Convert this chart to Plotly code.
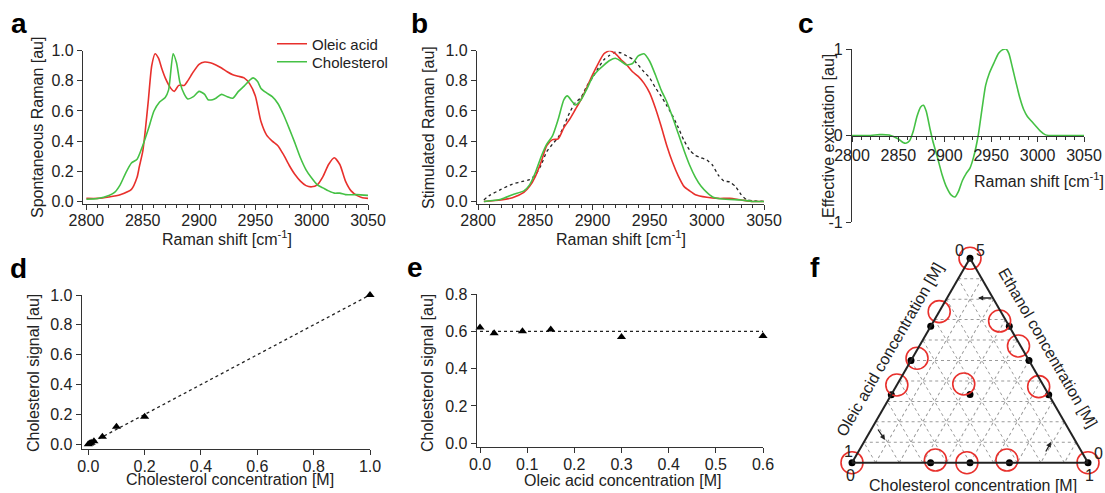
import plotly.graph_objects as go

W, H = 1105, 493
FONT = "Arial, Liberation Sans, sans-serif"
RED = '#e8302c'
GREEN = '#45c145'
AX = '#333333'


def px(x):
    return x / W


def py(y):
    return 1 - y / H


# ---- panel a: spontaneous Raman ----
a_oleic_x = [2800, 2810, 2820, 2830, 2840, 2845, 2847, 2850, 2852, 2855, 2858, 2861, 2864, 2867, 2870, 2875,
             2878, 2882, 2887, 2890, 2895, 2900, 2905, 2910, 2915, 2920, 2925, 2930, 2935, 2940, 2945, 2950,
             2955, 2960, 2965, 2970, 2975, 2980, 2985, 2990, 2995, 3000, 3005, 3010, 3015, 3020, 3025, 3030,
             3035, 3040, 3045, 3050]
a_oleic_y = [0.02, 0.02, 0.03, 0.045, 0.08, 0.16, 0.23, 0.33, 0.45, 0.67, 0.9, 0.98, 0.95, 0.88, 0.82, 0.75,
             0.73, 0.77, 0.77, 0.8, 0.86, 0.91, 0.925, 0.92, 0.905, 0.885, 0.86, 0.84, 0.83, 0.82, 0.78, 0.7,
             0.53, 0.44, 0.4, 0.37, 0.31, 0.24, 0.18, 0.135, 0.105, 0.097, 0.11, 0.165, 0.245, 0.29, 0.245, 0.135,
             0.07, 0.04, 0.025, 0.02]
a_chol_x = [2800, 2810, 2820, 2825, 2830, 2835, 2840, 2845, 2850, 2855, 2860, 2865, 2870, 2873, 2877, 2880,
            2883, 2887, 2890, 2895, 2900, 2905, 2908, 2912, 2915, 2920, 2925, 2930, 2935, 2940, 2945, 2948,
            2952, 2955, 2960, 2965, 2970, 2975, 2980, 2985, 2990, 2995, 3000, 3005, 3010, 3015, 3020, 3025,
            3030, 3040, 3050]
a_chol_y = [0.015, 0.02, 0.04, 0.06, 0.11, 0.19, 0.255, 0.28, 0.37, 0.48, 0.6, 0.66, 0.69, 0.74, 0.98, 0.92,
            0.79, 0.71, 0.68, 0.695, 0.73, 0.71, 0.675, 0.675, 0.685, 0.71, 0.695, 0.685, 0.73, 0.765, 0.805, 0.82,
            0.795, 0.75, 0.72, 0.695, 0.65, 0.575, 0.485, 0.39, 0.29, 0.21, 0.155, 0.11, 0.09, 0.07, 0.055, 0.055,
            0.045, 0.045, 0.04]

# ---- panel b: stimulated Raman ----
b_red_x = [2805, 2820, 2830, 2840, 2845, 2850, 2855, 2860, 2865, 2870, 2875, 2880, 2885, 2890, 2895, 2900,
           2905, 2910, 2915, 2920, 2925, 2930, 2935, 2940, 2945, 2950, 2955, 2960, 2965, 2970, 2975, 2980,
           2985, 2990, 3000, 3010, 3020, 3030, 3040, 3050]
b_red_y = [0, 0.01, 0.025, 0.06, 0.1, 0.165, 0.26, 0.37, 0.41, 0.415, 0.49, 0.545, 0.61, 0.675, 0.755, 0.84,
           0.915, 0.98, 1.0, 0.98, 0.94, 0.905, 0.86, 0.83, 0.785, 0.72, 0.62, 0.5, 0.37, 0.26, 0.17, 0.1,
           0.07, 0.045, 0.028, 0.02, 0.02, 0.01, 0, 0]
b_green_x = [2805, 2820, 2830, 2840, 2845, 2850, 2855, 2860, 2865, 2870, 2875, 2878, 2882, 2885, 2890, 2895,
             2900, 2905, 2910, 2915, 2920, 2925, 2930, 2935, 2940, 2945, 2950, 2955, 2960, 2965, 2970, 2975,
             2980, 2985, 2990, 2995, 3000, 3005, 3010, 3020, 3030, 3040, 3050]
b_green_y = [0, 0.015, 0.045, 0.07, 0.11, 0.19, 0.295, 0.38, 0.435, 0.545, 0.675, 0.7, 0.665, 0.64, 0.675, 0.745,
             0.825, 0.87, 0.905, 0.935, 0.95, 0.93, 0.905, 0.915, 0.965, 0.98, 0.93, 0.84, 0.74, 0.66, 0.56, 0.45,
             0.34, 0.24, 0.16, 0.1, 0.06, 0.03, 0.02, 0.013, 0.01, 0, 0]
b_mix_x = [2805, 2810, 2820, 2830, 2840, 2845, 2850, 2855, 2860, 2865, 2870, 2875, 2880, 2885, 2890, 2895,
           2900, 2905, 2910, 2915, 2920, 2925, 2930, 2935, 2940, 2945, 2950, 2955, 2960, 2965, 2970, 2975,
           2980, 2985, 2990, 2995, 3000, 3005, 3010, 3015, 3020, 3025, 3030, 3035, 3040, 3050]
b_mix_y = [0.01, 0.04, 0.08, 0.115, 0.135, 0.145, 0.175, 0.24, 0.33, 0.38, 0.425, 0.5, 0.59, 0.655, 0.69, 0.765,
           0.82, 0.885, 0.94, 0.97, 0.99, 0.985, 0.965, 0.945, 0.905, 0.86, 0.82, 0.755, 0.7, 0.635, 0.57, 0.49,
           0.405, 0.34, 0.305, 0.29, 0.275, 0.24, 0.175, 0.135, 0.13, 0.1, 0.045, 0.01, 0.005, 0]

# ---- panel c: effective excitation ----
c_x = [2800, 2820, 2830, 2840, 2850, 2855, 2858, 2862, 2866, 2870, 2874, 2877, 2880, 2884, 2887, 2892,
       2897, 2902, 2907, 2911, 2915, 2919, 2923, 2927, 2931, 2936, 2940, 2944, 2948, 2953, 2958, 2962,
       2966, 2969, 2973, 2977, 2981, 2985, 2989, 2993, 2998, 3003, 3008, 3012, 3030, 3050]
c_y = [0, 0, 0.01, 0.005, -0.04, -0.08, -0.09, -0.06, 0.05, 0.22, 0.33, 0.35, 0.28, 0.08, -0.06, -0.25,
       -0.45, -0.6, -0.69, -0.71, -0.64, -0.52, -0.44, -0.38, -0.25, 0, 0.3, 0.58, 0.72, 0.84, 0.95, 0.99,
       1.0, 0.95, 0.78, 0.6, 0.43, 0.3, 0.22, 0.17, 0.11, 0.05, 0.01, 0, 0, 0]
c_yticks = [-1, 0, 1]
c_yticktext = ['-1', '0', '1']

# ---- panel d: cholesterol calibration ----
d_conc = [0, 0.005, 0.01, 0.02, 0.05, 0.1, 0.2, 1.0]
d_signal = [0, 0.005, 0.01, 0.02, 0.05, 0.118, 0.185, 1.0]
d_fit_x = [0, 1.0]
d_fit_y = [0, 1.0]

# ---- panel e: oleic acid interference ----
e_conc = [0, 0.03, 0.09, 0.15, 0.3, 0.6]
e_signal = [0.62, 0.59, 0.60, 0.61, 0.57, 0.575]
e_fit_x = [0, 0.6]
e_fit_y = [0.6, 0.6]

# ---- panel f: ternary mixtures (a = ethanol, b = oleic acid, c = cholesterol) ----
f_set_eth = [1, 0.667, 0.5, 0.333, 0, 0, 0, 0, 0, 0.667, 0.5, 0.333, 0.333]
f_set_ole = [0, 0.333, 0.5, 0.667, 1, 0.667, 0.5, 0.333, 0, 0, 0, 0, 0.333]
f_set_cho = [0, 0, 0, 0, 0, 0.333, 0.5, 0.667, 1, 0.333, 0.5, 0.667, 0.333]
f_meas_eth = [1, 0.739, 0.511, 0.38, 0, 0.013, 0, 0.013, 0, 0.693, 0.571, 0.372, 0.385]
f_meas_ole = [0, 0.261, 0.469, 0.62, 1, 0.64, 0.513, 0.337, 0, 0.028, 0.009, 0.023, 0.334]
f_meas_cho = [0, 0, 0.02, 0, 0, 0.347, 0.487, 0.65, 1, 0.279, 0.42, 0.605, 0.281]

fig = go.Figure()

# a
fig.add_trace(go.Scatter(x=a_oleic_x, y=a_oleic_y, name='Oleic acid', mode='lines', legend='legend',
                         line=dict(color=RED, width=1.6, shape='spline', smoothing=0.6), xaxis='x', yaxis='y'))
fig.add_trace(go.Scatter(x=a_chol_x, y=a_chol_y, name='Cholesterol', mode='lines', legend='legend2',
                         line=dict(color=GREEN, width=1.6, shape='spline', smoothing=0.6), xaxis='x', yaxis='y'))
# b
fig.add_trace(go.Scatter(x=b_mix_x, y=b_mix_y, mode='lines', showlegend=False,
                         line=dict(color='#222222', width=1.3, dash='dot', shape='spline', smoothing=0.5),
                         xaxis='x2', yaxis='y2'))
fig.add_trace(go.Scatter(x=b_red_x, y=b_red_y, mode='lines', showlegend=False,
                         line=dict(color=RED, width=1.6, shape='spline', smoothing=0.6), xaxis='x2', yaxis='y2'))
fig.add_trace(go.Scatter(x=b_green_x, y=b_green_y, mode='lines', showlegend=False,
                         line=dict(color=GREEN, width=1.6, shape='spline', smoothing=0.6), xaxis='x2', yaxis='y2'))
# c
fig.add_trace(go.Scatter(x=c_x, y=c_y, mode='lines', showlegend=False,
                         line=dict(color=GREEN, width=1.6, shape='spline', smoothing=0.6), xaxis='x3', yaxis='y3'))
# d
fig.add_trace(go.Scatter(x=d_fit_x, y=d_fit_y, mode='lines', showlegend=False,
                         line=dict(color='#222222', width=1.3, dash='dot'), xaxis='x4', yaxis='y4'))
fig.add_trace(go.Scatter(x=d_conc, y=d_signal, mode='markers', showlegend=False, cliponaxis=False,
                         marker=dict(symbol='triangle-up', size=8, color='black'), xaxis='x4', yaxis='y4'))
# e
fig.add_trace(go.Scatter(x=e_fit_x, y=e_fit_y, mode='lines', showlegend=False,
                         line=dict(color='#222222', width=1.3, dash='dot'), xaxis='x5', yaxis='y5'))
fig.add_trace(go.Scatter(x=e_conc, y=e_signal, mode='markers', showlegend=False, cliponaxis=False,
                         marker=dict(symbol='triangle-up', size=8, color='black'), xaxis='x5', yaxis='y5'))
# f
fig.add_trace(go.Scatterternary(a=f_set_eth, b=f_set_ole, c=f_set_cho, mode='markers', showlegend=False,
                                cliponaxis=False, marker=dict(size=7, color='black')))
fig.add_trace(go.Scatterternary(a=f_meas_eth, b=f_meas_ole, c=f_meas_cho, mode='markers', showlegend=False,
                                cliponaxis=False,
                                marker=dict(size=22, color='rgba(0,0,0,0)', line=dict(color='#e8302c', width=1.6))))

tick_font = dict(family=FONT, size=16, color='#222222')
base = dict(showline=True, linecolor=AX, linewidth=1.2, ticks='outside', ticklen=5, tickwidth=1.2,
            tickcolor=AX, showgrid=False, zeroline=False, tickfont=tick_font, fixedrange=True,
            automargin=False)
xbase = dict(base, ticklabelstandoff=-3)
minor10 = dict(dtick=10, ticks='outside', ticklen=3, tickcolor=AX, tickwidth=1)
raman_y = dict(base, range=[-0.017, 1.0], dtick=0.2, tickformat='.1f')
tern_ax = dict(title=dict(text=''), showticklabels=False, ticks='', linecolor='#222222', linewidth=2,
               showgrid=True, gridcolor='#9a9a9a', griddash='dot', gridwidth=1, dtick=0.1)
leg = dict(xanchor='left', yanchor='middle', font=dict(family=FONT, size=15, color='#222222'),
           bgcolor='rgba(0,0,0,0)', itemwidth=30)

fig.update_layout(
    width=W, height=H, margin=dict(l=0, r=0, t=0, b=0, pad=0, autoexpand=False),
    paper_bgcolor='white', plot_bgcolor='white',
    font=dict(family=FONT, size=16, color='#222222'),
    xaxis=dict(xbase, domain=[px(83), px(368)], range=[2797, 3050], dtick=50, minor=minor10, anchor='y'),
    yaxis=dict(raman_y, domain=[py(204), py(50.7)], anchor='x'),
    xaxis2=dict(xbase, domain=[px(477), px(764)], range=[2799, 3050], dtick=50, minor=minor10, anchor='y2'),
    yaxis2=dict(raman_y, domain=[py(204), py(50.7)], anchor='x2'),
    xaxis3=dict(base, domain=[px(852), px(1084)], range=[2800, 3050], dtick=50, minor=minor10,
                anchor='free', position=py(136)),
    yaxis3=dict(base, domain=[py(222), py(49)], range=[-1, 1], tickvals=c_yticks, ticktext=c_yticktext,
                anchor='x3'),
    xaxis4=dict(xbase, domain=[px(81.7), px(370)], range=[-0.0234, 1.0], dtick=0.2, tickformat='.1f', anchor='y4'),
    yaxis4=dict(base, domain=[py(449.3), py(295)], range=[-0.0335, 1.0], dtick=0.2, tickformat='.1f', anchor='x4'),
    xaxis5=dict(xbase, domain=[px(476.7), px(763)], range=[-0.007, 0.6], dtick=0.1, tickformat='.1f', anchor='y5'),
    yaxis5=dict(base, domain=[py(447.3), py(294)], range=[-0.0214, 0.8], dtick=0.2, tickformat='.1f', anchor='x5'),
    ternary=dict(
        domain=dict(x=[px(852), px(1088)], y=[py(463), py(258)]),
        sum=1, bgcolor='white',
        aaxis=tern_ax, baxis=tern_ax, caxis=tern_ax,
    ),
    legend=dict(leg, x=px(272), y=py(44)),
    legend2=dict(leg, x=px(272), y=py(62)),
)

annos = []


def label(text, x, y, size=16, angle=0, bold=False, xanchor='center'):
    if bold:
        text = '<b>' + text + '</b>'
    annos.append(dict(text=text, x=px(x), y=py(y), xref='paper', yref='paper', showarrow=False,
                      xanchor=xanchor, yanchor='middle', textangle=angle,
                      font=dict(family=FONT, size=size, color='black' if bold else '#222222')))


# panel letters
for t, x, y in [('a', 18.5, 23), ('b', 419.5, 23), ('c', 805.5, 23), ('d', 18, 268), ('e', 415, 267),
                ('f', 815, 267)]:
    label(t, x, y, size=28, bold=True)

# axis titles
label('Raman shift [cm<sup>-1</sup>]', 227, 238)
label('Raman shift [cm<sup>-1</sup>]', 621, 238)
label('Raman shift [cm<sup>-1</sup>]', 1039, 180)
label('Spontaneous Raman [au]', 37, 128, angle=-90)
label('Stimulated Raman [au]', 428, 128, angle=-90)
label('Effective excitation [au]', 828, 136, angle=-90)
label('Cholesterol concentration [M]', 230, 479)
label('Oleic acid concentration [M]', 622, 480)
label('Cholesterol signal [au]', 33, 373, angle=-90)
label('Cholesterol signal [au]', 427, 373, angle=-90)

# ternary axis titles and corner values
label('Oleic acid concentration [M]', 889, 350, angle=-60)
label('Ethanol concentration [M]', 1048, 347, angle=60)
label('Cholesterol concentration [M]', 973, 485)
for t, x, y in [('0', 959, 250), ('5', 980, 250), ('1', 848, 451), ('0', 850, 475),
                ('0', 1098, 453), ('1', 1089, 475)]:
    label(t, x, y)

# small direction arrows on the ternary
for hx, hy, ax, ay in [(978, 298, 15, 0), (885, 440, -8, -12), (1051, 442, -6, 11)]:
    annos.append(dict(x=px(hx), y=py(hy), xref='paper', yref='paper', ax=ax, ay=ay, text='',
                      showarrow=True, arrowhead=2, arrowsize=0.8, arrowwidth=1.3, arrowcolor='#222222'))

fig.update_layout(annotations=annos)

# drop the default page margin so the figure sits in the window corner
fig.write_html("out.html", config={'displayModeBar': False},
               post_script="document.body.style.margin='0';document.body.style.overflow='hidden';")
